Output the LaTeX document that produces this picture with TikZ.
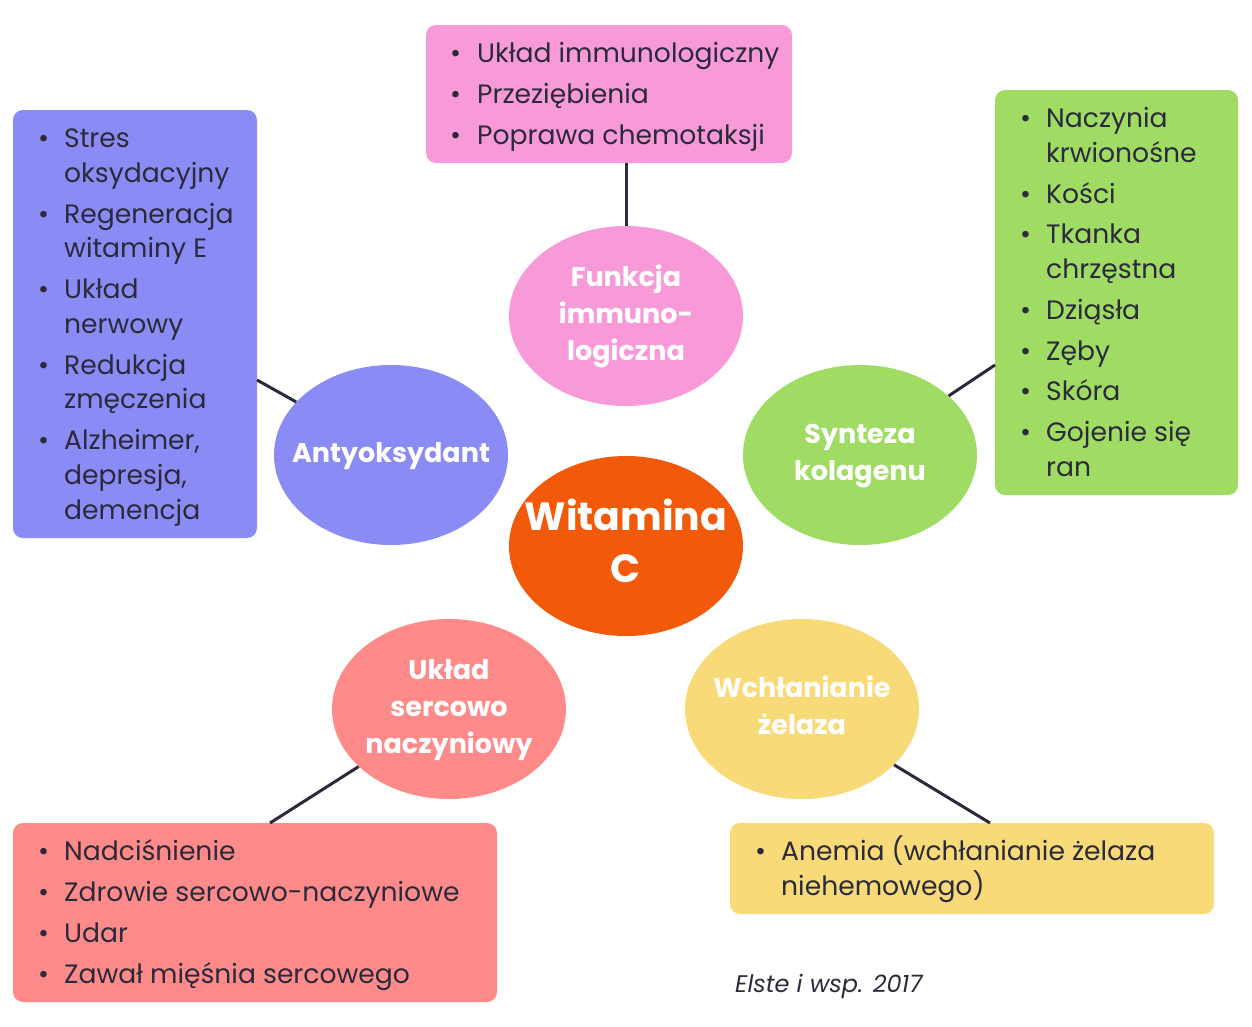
\documentclass[tikz,border=0pt]{standalone}
\usepackage{fontspec}
\setmainfont{Poppins}
\usetikzlibrary{shapes.geometric,backgrounds}
\definecolor{cpur}{HTML}{8B8BF5}
\definecolor{cpink}{HTML}{F99AD8}
\definecolor{cgreen}{HTML}{A0DC64}
\definecolor{csal}{HTML}{FF8A8A}
\definecolor{cyel}{HTML}{F8DA78}
\definecolor{corange}{HTML}{F25A0A}
\definecolor{ctext}{HTML}{2A2A3A}
\tikzset{
 ell/.style={ellipse,minimum width=234pt,minimum height=180pt,inner sep=0pt,text=white,font=\fontsize{27}{37}\selectfont\bfseries},
 box/.style={rounded corners=10pt,draw=none},
 ln/.style={line width=3pt,ctext},
 tx/.style={anchor=mid west,inner sep=0pt,text=ctext,font=\fontsize{26.6}{30}\selectfont},
}
\newcommand{\zb}[1]{\makebox[0pt]{\begin{tabular}{@{}c@{}}#1\end{tabular}}}
\newcommand{\bl}[4]{\node[tx] at (#1,#3+6) {•}; \node[tx] at (#2,#3+6) {#4};}
\newcommand{\cl}[3]{\node[tx] at (#1,#2+6) {#3};}
\begin{document}
\begin{tikzpicture}[x=1pt,y=-1pt]
\useasboundingbox[fill=white] (0,0) rectangle (1252,1026);
\fill[box,cpink] (426,25) rectangle (792,163);
\fill[box,cpur] (13,110) rectangle (257,538);
\fill[box,cgreen] (995,90) rectangle (1238,495);
\fill[box,csal] (13,823) rectangle (497,1002);
\fill[box,cyel] (730,823) rectangle (1214,914);
\coordinate (bpink) at (626,163);
\coordinate (bpur) at (257,380);
\coordinate (bgreen) at (995,365);
\coordinate (bsal) at (270,823);
\coordinate (byel) at (990,823);
\node[ell,fill=corange,font=\fontsize{39.4}{52}\selectfont\bfseries] (wc) at (626,546) {\zb{Witamina\\C}};
\node[ell,fill=cpink] (fi) at (626,316) {\zb{Funkcja\\immuno-\\logiczna}};
\node[ell,fill=cpur] (an) at (391,455) {\zb{Antyoksydant}};
\node[ell,fill=cgreen] (sk) at (860,455) {\zb{Synteza\\kolagenu}};
\node[ell,fill=csal] (us) at (449,709) {\zb{Układ\\sercowo\\naczyniowy}};
\node[ell,fill=cyel] (wz) at (802,709) {\zb{Wchłanianie\\żelaza}};
\begin{scope}[on background layer]
\draw[ln] (wc.center) -- (fi.center);
\draw[ln] (wc.center) -- (an.center);
\draw[ln] (wc.center) -- (sk.center);
\draw[ln] (wc.center) -- (us.center);
\draw[ln] (wc.center) -- (wz.center);
\end{scope}
\draw[ln] (fi) -- (bpink);
\draw[ln] (an) -- (bpur);
\draw[ln] (sk) -- (bgreen);
\draw[ln] (us) -- (bsal);
\draw[ln] (wz) -- (byel);
% pink
\bl{450}{477}{54}{Układ immunologiczny}
\bl{450}{477}{95}{Przeziębienia}
\bl{450}{477}{136}{Poprawa chemotaksji}
% purple
\bl{38}{64}{139}{Stres}
\cl{64}{174}{oksydacyjny}
\bl{38}{64}{215}{Regeneracja}
\cl{64}{249}{witaminy E}
\bl{38}{64}{290}{Układ}
\cl{64}{325}{nerwowy}
\bl{38}{64}{366}{Redukcja}
\cl{64}{400}{zmęczenia}
\bl{38}{64}{441}{Alzheimer,}
\cl{64}{476}{depresja,}
\cl{64}{511}{demencja}
% green
\bl{1020}{1046}{119}{Naczynia}
\cl{1046}{154}{krwionośne}
\bl{1020}{1046}{195}{Kości}
\bl{1020}{1046}{235}{Tkanka}
\cl{1046}{270}{chrzęstna}
\bl{1020}{1046}{311}{Dziąsła}
\bl{1020}{1046}{352}{Zęby}
\bl{1020}{1046}{392}{Skóra}
\bl{1020}{1046}{433}{Gojenie się}
\cl{1046}{468}{ran}
% salmon
\bl{38}{64}{852}{Nadciśnienie}
\bl{38}{64}{893}{Zdrowie sercowo-naczyniowe}
\bl{38}{64}{934}{Udar}
\bl{38}{64}{975}{Zawał mięśnia sercowego}
% yellow
\bl{755}{781}{852}{Anemia (wchłanianie żelaza}
\cl{781}{887}{niehemowego)}
\node[anchor=mid west,inner sep=0pt,text=ctext,font=\fontsize{24}{28}\selectfont\itshape] (cit) at (735,990) {Elste i wsp. 2017};
\end{tikzpicture}
\end{document}
